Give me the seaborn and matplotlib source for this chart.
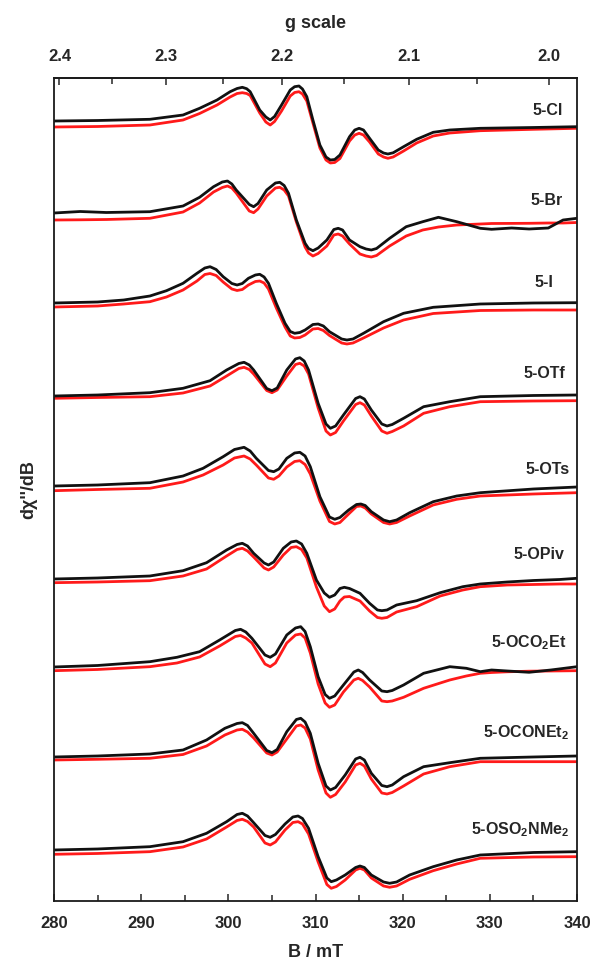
import numpy as np
import pandas as pd
import matplotlib
matplotlib.use("Agg")
import matplotlib.pyplot as plt
import seaborn as sns
from matplotlib.ticker import FixedLocator, MultipleLocator, FormatStrFormatter

# EPR spectra read off the figure: field (mT), experiment and simulation,
# signal relative to each trace's left baseline (arbitrary units)
cl_field = [280, 285, 291.0, 294.8, 296.7, 298.7, 300.2, 301.0, 301.6, 302.1, 302.5, 303.6, 304.3, 304.8,
            305.3, 306.1, 307.1, 307.6, 308.1, 308.5, 309.0, 309.7, 310.5, 311.2, 311.7, 312.2, 312.8,
            313.9, 314.5, 315.0, 315.5, 316.2, 317.2, 317.8, 318.3, 318.9, 320.1, 321.6, 323.5, 325.4,
            328.9, 335, 340]
cl_exp = [0, 0.5, 1.7, 6, 12.7, 21, 29.3, 32.5, 33.7, 32.3, 29.3, 11, 4, 1, 4.5, 16, 31, 34.3, 35, 32,
          24.3, 1, -24, -36, -39, -38.5, -34, -15.7, -9, -7.3, -9, -17.3, -29, -32, -33, -31.8, -25.7,
          -18.3, -11.3, -9, -7.3, -6.5, -5.7]
cl_sim = [-6, -5.5, -4, 1, 7.5, 16, 24, 27.5, 28.3, 27.5, 25.5, 8, -1, -4, -0.5, 10, 25, 28.5, 29.3, 27,
          20, -2, -27, -39, -42, -41.5, -37.5, -20, -14, -12.3, -14, -21, -33, -36, -37.3, -36, -30, -22,
          -15, -12, -9.7, -8.3, -7.3]

br_field = [280, 283, 286, 291.0, 294.8, 296.7, 298.3, 299.3, 299.9, 300.4, 300.9, 302.4, 302.9, 303.4,
            304.4, 305.4, 305.9, 306.4, 306.9, 307.8, 308.8, 309.2, 309.7, 310.3, 311.3, 312.1, 312.6,
            313.1, 313.9, 315.1, 315.8, 316.4, 317.0, 318.5, 320.4, 322.3, 324.1, 326.2, 328.9, 330.2,
            332.5, 334.5, 336.7, 338.4, 340]
br_exp = [-1, 0.5, -0.5, 0.3, 6, 14.7, 25.3, 30, 31, 28, 22, 7.5, 5.3, 8.5, 22, 29, 29.7, 26.5, 18.7, -8,
          -31.3, -36.5, -38.7, -36, -28, -17.5, -16.3, -18, -28, -34.7, -37, -38, -36.5, -26.3, -14.7,
          -9.7, -5.3, -9.7, -16.3, -17.3, -16, -17, -16, -8, -6.3]
br_sim = [-8, -7.8, -7.5, -6.3, 0, 9, 20, 24.5, 26, 24, 19, 1, -0.7, 3, 16, 24, 24.7, 22, 16, -10, -35,
          -41, -44, -41.5, -34, -23, -22, -24, -32, -42, -44, -45, -43.5, -34, -24, -18, -15, -13, -12,
          -11.5, -11.4, -11.3, -11, -11, -10.5]

i_field = [280, 285, 288, 291.0, 292.9, 294.8, 296.4, 297.3, 297.9, 298.6, 299.4, 300.4, 301.0, 301.6,
           302.3, 303.1, 303.6, 304.1, 304.6, 305.5, 306.5, 307.1, 307.6, 308.2, 308.8, 309.7, 310.3,
           310.9, 311.6, 313.0, 313.6, 314.3, 315.5, 317.8, 320.1, 323.5, 328.9, 335, 340]
i_exp = [0, 1, 3, 7, 12.3, 19.7, 29.7, 35, 36.3, 33.5, 26.3, 19.5, 18, 19.5, 24.7, 28, 28.7, 26, 19.7,
         -0.3, -20.3, -28.5, -30.3, -29.5, -27, -21.5, -21, -23, -28.7, -36, -37, -36, -30.3, -18.7,
         -10.3, -4.3, -1, 0, 0.3]
i_sim = [-4, -3, -1, 1.3, 6, 13, 22, 28.5, 29.5, 27.5, 21, 14, 12.5, 13.5, 18, 21.5, 22, 20, 14, -5, -24,
         -33, -35, -34.5, -32, -26, -25.5, -27.5, -32.5, -40, -41, -40, -35, -25, -17, -10.5, -7.5, -7, -7]

otf_field = [280, 285, 291.0, 294.8, 297.9, 299.8, 301.2, 301.8, 302.4, 302.9, 304.4, 305.0, 305.6, 306.7,
             307.7, 308.2, 308.7, 309.2, 310.3, 311.2, 311.7, 312.3, 313.2, 314.6, 315.1, 315.6, 316.4,
             317.6, 318.2, 318.8, 320.1, 322.4, 325.4, 328.9, 335, 340]
otf_exp = [0, 1, 3.3, 7.7, 15.3, 26, 32.5, 33.7, 31, 26, 7.5, 5.3, 8, 26, 37, 38.3, 35, 26, -7.3, -28,
           -32.3, -30, -19, -2.5, -0.7, -3, -14, -28, -30, -28.5, -22.3, -10.7, -5.7, -0.7, 0.5, 1]
otf_sim = [-2.3, -1.5, -0.7, 3, 10, 20, 27.5, 28.7, 26.5, 22, 5.5, 3.3, 6, 20, 31.5, 32.7, 30, 22, -12,
           -35, -39, -36.5, -25, -8.5, -6.7, -9, -20, -35, -37.3, -35.5, -30, -17.3, -10.7, -5.7, -5, -4.7]

ots_field = [280, 285, 291.0, 294.8, 297.1, 299.4, 300.7, 301.8, 302.5, 303.2, 304.6, 305.2, 305.8, 306.7,
             307.6, 308.2, 308.8, 309.4, 310.5, 311.6, 312.2, 312.8, 313.8, 314.7, 315.2, 315.7, 316.4,
             317.8, 318.5, 319.3, 320.8, 323.5, 326.2, 328.9, 335, 340]
ots_exp = [0, 1, 3.3, 10, 17.7, 29.3, 36.5, 38.7, 35, 27.7, 15.5, 14.3, 17, 27.7, 33, 33.7, 30, 19.3,
           -10.7, -31, -33.3, -31.5, -24, -18.5, -18, -19.5, -25.7, -34, -35.7, -34, -26.7, -15.7, -10,
           -6.7, -3, -1]
ots_sim = [-4.7, -3.5, -2.3, 4, 11, 21, 28, 30, 27, 21, 8, 6.7, 10, 19, 24.5, 25.3, 21.5, 12, -15, -35.5,
           -38, -36.5, -28, -20.5, -20, -22, -28, -36.5, -38, -36.5, -30, -19, -13.3, -10, -8, -6.7]

opiv_field = [280, 285, 291.0, 294.8, 297.5, 299.8, 301.0, 301.6, 302.2, 302.9, 304.1, 304.6, 305.2, 306.3,
              307.2, 307.8, 308.4, 309.0, 310.1, 311.0, 311.6, 312.2, 312.8, 313.3, 313.9, 315.1, 316.2,
              317.1, 317.6, 318.2, 319.3, 321.6, 324.3, 326.9, 328.9, 332, 335, 338, 340]
opiv_exp = [0, 1, 3, 8.3, 16.3, 29, 34.5, 35.7, 33, 25.7, 16, 14, 17, 30.7, 37, 38, 35, 25.7, -1, -14,
            -18.3, -16, -9.5, -8.3, -9.5, -14.3, -24.3, -31, -31.7, -31, -26, -21.7, -13.7, -7.7, -5, -3,
            -1.5, -0.5, 0.7]
opiv_sim = [-3.7, -3, -1.7, 3, 10, 23, 29.5, 30.7, 28, 22, 11, 9, 12, 24, 31.5, 32.3, 29.5, 21, -8, -27,
            -32.7, -30, -22, -18, -17.5, -22, -32, -38.5, -39.3, -38.5, -33, -27.7, -17, -11, -7.7, -6,
            -5.5, -5, -5]

oco2et_field = [280, 285, 291.0, 294.1, 296.7, 299.0, 300.8, 301.4, 302.0, 302.7, 304.2, 304.8, 305.4,
                306.7, 307.7, 308.3, 308.8, 309.4, 310.3, 311.1, 311.6, 312.2, 313.2, 314.4, 314.9, 315.4,
                316.2, 317.6, 318.2, 318.8, 320.1, 322.4, 325.4, 327.3, 328.9, 330.2, 332, 334.5, 337, 340]
oco2et_exp = [0, 1.5, 5.3, 9.7, 15.3, 27, 36.5, 37.7, 35, 28.7, 12, 9.7, 13, 32, 39, 40.3, 35.5, 20.3,
              -9.7, -27.5, -31.3, -29, -18, -5, -3, -5.5, -13, -24, -24.7, -23.5, -18, -6.3, 0.3, -1.3,
              -4.7, -3, -4, -5.3, -3, 0.3]
oco2et_sim = [-3.7, -2.5, 0.3, 4, 10, 21, 30.5, 31.5, 29, 24, 3, 0.3, 4, 24, 32, 33, 29, 14, -17, -36,
              -40.3, -38, -25, -13, -11.3, -13.5, -20, -34, -34.7, -34, -30.3, -21.3, -13, -9, -6.3, -5.5,
              -4.8, -4.2, -4, -3.7]

ocon_field = [280, 285, 291.0, 294.8, 297.5, 299.6, 301.0, 301.6, 302.2, 302.9, 304.4, 305.0, 305.6, 306.7,
              307.8, 308.3, 308.8, 309.4, 310.3, 311.2, 311.7, 312.3, 313.4, 314.6, 315.1, 315.6, 316.4,
              317.6, 318.2, 318.8, 320.1, 322.4, 325.4, 328.9, 335, 340]
ocon_exp = [0, 1, 3, 7, 17, 28.7, 33.5, 34.3, 31.5, 23.7, 6.5, 4.3, 7.5, 25.3, 37.5, 38.7, 35, 23.7, -6.3,
            -29, -33, -30.5, -18, -2, -0.3, -3, -16.3, -28.5, -29.7, -28, -19.7, -9.7, -5.7, -1.3, 0, 1]
ocon_sim = [-3, -2.3, -1.3, 2.5, 11, 22, 27, 27.7, 25, 19, 4, 2, 5, 18, 31, 32, 29, 18, -13, -36, -40.3,
            -37.5, -25, -8, -6.3, -9, -22, -36, -37, -35.5, -29, -17, -9.7, -4.7, -4.7, -4.7]

oso_field = [280, 285, 291.0, 294.8, 297.5, 299.8, 301.0, 301.6, 302.2, 302.9, 304.2, 304.8, 305.4, 306.5,
             307.4, 308.0, 308.5, 309.2, 310.3, 311.3, 311.8, 312.4, 313.4, 314.6, 315.1, 315.6, 316.4,
             317.8, 318.5, 319.3, 320.8, 323.5, 326.2, 328.9, 335, 340]
oso_exp = [0, 1, 3.3, 8.3, 16.7, 28.3, 35.5, 36.7, 34, 27.3, 14.5, 12.7, 15.5, 26, 33, 34, 31.5, 21.7,
           -6.7, -28, -31.7, -30, -25, -17.5, -16, -17.5, -25, -32, -33.3, -32, -25, -16.7, -10, -5, -2.5,
           -1.7]
oso_sim = [-4.3, -3.5, -1.7, 3, 11, 23, 29.5, 30.7, 28.5, 23, 7, 5, 8, 20, 27.5, 28.3, 26, 16, -12, -34.5,
           -38.3, -36.5, -30, -20, -18.3, -20, -28, -36, -37.3, -36, -29.3, -20.7, -14, -8.3, -7, -6.7]

labels = ["5-Cl", "5-Br", "5-I", "5-OTf", "5-OTs", "5-OPiv",
          r"5-OCO$_\mathbf{2}$Et", r"5-OCONEt$_\mathbf{2}$", r"5-OSO$_\mathbf{2}$NMe$_\mathbf{2}$"]

g_ticks = [2.4, 2.3, 2.2, 2.1, 2.0]
g_minor = [2.35, 2.25, 2.15, 2.05]
freq_ghz = 9.4265  # microwave frequency that matches the g scale

# layout: vertical stacking offset of each trace and label placement
offsets = [780, 689, 598, 505, 415, 322, 234, 144, 51]
label_x = [338.4, 338.4, 337.3, 338.6, 339.1, 338.6, 338.8, 339.1, 339.1]
label_y = [791, 701, 618, 527, 431, 346, 258, 168, 71]

spectra = [
    (cl_field, cl_exp, cl_sim), (br_field, br_exp, br_sim), (i_field, i_exp, i_sim),
    (otf_field, otf_exp, otf_sim), (ots_field, ots_exp, ots_sim), (opiv_field, opiv_exp, opiv_sim),
    (oco2et_field, oco2et_exp, oco2et_sim), (ocon_field, ocon_exp, ocon_sim), (oso_field, oso_exp, oso_sim),
]

rows = []
for name, off, (field, exp, sim) in zip(labels, offsets, spectra):
    for b, e, s in zip(field, exp, sim):
        rows.append({"compound": name, "B": b, "exp": off + e, "sim": off + s})
df = pd.DataFrame(rows)

sns.set_theme(style="ticks")
plt.rcParams["font.family"] = ["Liberation Sans", "DejaVu Sans"]
plt.rcParams["font.weight"] = "bold"
plt.rcParams["mathtext.fontset"] = "custom"
plt.rcParams["mathtext.rm"] = "Liberation Sans:bold"
plt.rcParams["mathtext.bf"] = "Liberation Sans:bold"
plt.rcParams["mathtext.it"] = "Liberation Sans:bold:italic"

fig = plt.figure(figsize=(5.93, 9.63), dpi=100)
ax = fig.add_axes([0.0911, 0.0644, 0.882, 0.8546])

for name in labels:
    sub = df[df["compound"] == name]
    sns.lineplot(data=sub, x="B", y="sim", color="#ff1a1a", lw=2.0, estimator=None, ax=ax,
                 solid_joinstyle="round")
    sns.lineplot(data=sub, x="B", y="exp", color="#111111", lw=2.0, estimator=None, ax=ax,
                 solid_joinstyle="round")

for name, lx, ly in zip(labels, label_x, label_y):
    ax.text(lx, ly, name, ha="right", va="center", fontsize=11.5, fontweight="bold")

ax.set_xlim(280, 340)
ax.set_ylim(0, 823)
ax.set_yticks([])
ax.xaxis.set_major_locator(MultipleLocator(10))
ax.xaxis.set_minor_locator(MultipleLocator(5))
ax.tick_params(axis="x", which="both", direction="in", top=False, labelsize=12, pad=11, width=1.1)
ax.tick_params(axis="x", which="major", length=5)
ax.tick_params(axis="x", which="minor", length=4)
for lab in ax.get_xticklabels():
    lab.set_fontweight("bold")
for sp in ax.spines.values():
    sp.set_linewidth(1.3)
    sp.set_color("#1a1a1a")

ax.set_xlabel("B / mT", fontsize=13, fontweight="bold", labelpad=9)
ax.set_ylabel("d\u03c7''/dB", fontsize=13, fontweight="bold")
ax.yaxis.set_label_coords(-0.033, 0.5)


def b_to_g(b):
    b = np.array(b, dtype=float)
    with np.errstate(divide="ignore"):
        return 71.4477 * freq_ghz / b


def g_to_b(g):
    g = np.array(g, dtype=float)
    with np.errstate(divide="ignore"):
        return 71.4477 * freq_ghz / g


top = ax.secondary_xaxis("top", functions=(b_to_g, g_to_b))
top.xaxis.set_major_locator(FixedLocator(g_ticks))
top.xaxis.set_minor_locator(FixedLocator(g_minor))
top.xaxis.set_major_formatter(FormatStrFormatter("%.1f"))
top.tick_params(axis="x", which="both", direction="in", labelsize=12, pad=10, width=1.1)
top.tick_params(axis="x", which="major", length=5)
top.tick_params(axis="x", which="minor", length=4)
for lab in top.get_xticklabels():
    lab.set_fontweight("bold")
top.set_xlabel("g scale", fontsize=13, fontweight="bold", labelpad=15)

fig.savefig("out.png", dpi=100, facecolor="white")
